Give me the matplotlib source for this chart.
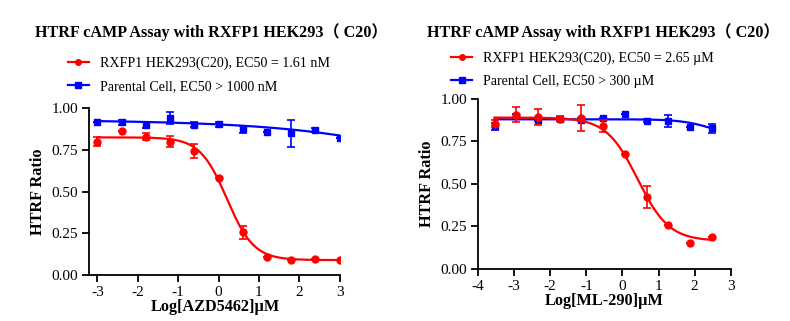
import matplotlib
matplotlib.use("Agg")
import matplotlib.pyplot as plt
import numpy as np

plt.rcParams['font.family'] = ['Liberation Serif', 'Noto Sans CJK SC']
plt.rcParams['mathtext.default'] = 'regular'

# left panel: AZD5462
x_azd = [-3, -2.4, -1.8, -1.2, -0.6, 0, 0.6, 1.2, 1.8, 2.4, 3]
red_azd = [0.80, 0.865, 0.829, 0.80, 0.742, 0.583, 0.256, 0.11, 0.092, 0.095, 0.089]
red_azd_err = [0.028, 0, 0.02, 0.033, 0.042, 0.0, 0.04, 0.0, 0.0, 0.0, 0.0]
blue_azd = [0.92, 0.915, 0.90, 0.94, 0.90, 0.905, 0.873, 0.857, 0.849, 0.87, 0.823]
blue_azd_err = [0.0, 0.015, 0.02, 0.035, 0.015, 0.015, 0.02, 0.0, 0.08, 0.01, 0.0]
# 4PL fit parameters (top, bottom, logEC50, hill)
red_azd_fit = (0.825, 0.09, 0.207, 1.3)
blue_azd_fit = (0.93, 0.0, 8.0, 0.19)

# right panel: ML-290
x_ml = [-3.54, -2.94, -2.34, -1.74, -1.14, -0.54, 0.07, 0.67, 1.27, 1.88, 2.48]
red_ml = [0.853, 0.908, 0.894, 0.882, 0.888, 0.839, 0.674, 0.422, 0.257, 0.151, 0.19]
red_ml_err = [0.02, 0.045, 0.047, 0.015, 0.078, 0.035, 0.0, 0.065, 0.0, 0.0, 0.0]
blue_ml = [0.839, 0.90, 0.878, 0.882, 0.878, 0.888, 0.912, 0.872, 0.868, 0.835, 0.827]
blue_ml_err = [0.02, 0.01, 0.01, 0.01, 0.01, 0.0, 0.0, 0.01, 0.035, 0.0, 0.025]
red_ml_fit = (0.89, 0.165, 0.423, 1.0)
blue_ml_fit = (0.88, 0.77, 2.5, 1.0)

title = 'HTRF cAMP Assay with RXFP1 HEK293（ C20）'


def four_pl(x, p):
    top, bottom, logec, hill = p
    return bottom + (top - bottom) / (1 + 10 ** ((x - logec) * hill))


def draw_panel(ax, x, red, red_err, blue, blue_err, red_fit, blue_fit):
    xs = np.linspace(min(x), max(x), 300)
    ax.plot(xs, four_pl(xs, blue_fit), color='blue', lw=1.6, zorder=2)
    ax.plot(xs, four_pl(xs, red_fit), color='red', lw=1.6, zorder=3)
    ax.errorbar(x, blue, yerr=blue_err, fmt='s', color='blue', ms=5,
                capsize=3, elinewidth=1.2, capthick=1.2, zorder=2)
    ax.errorbar(x, red, yerr=red_err, fmt='o', color='red', ms=5,
                capsize=3, elinewidth=1.2, capthick=1.2, zorder=3)
    # 图例用的句柄
    h1, = ax.plot([], [], color='red', marker='o', ms=4, lw=1.6)
    h2, = ax.plot([], [], color='blue', marker='s', ms=4, lw=1.6)
    for s in ['top', 'right']:
        ax.spines[s].set_visible(False)
    for s in ['left', 'bottom']:
        ax.spines[s].set_linewidth(1.3)
    ax.tick_params(width=1.3, length=5, labelsize=11, pad=3)
    ax.set_ylim(0, 1.0)
    ax.set_yticks([0, 0.25, 0.5, 0.75, 1.0])
    ax.set_yticklabels(['0.00', '0.25', '0.50', '0.75', '1.00'])
    ax.set_ylabel('HTRF Ratio', fontsize=11.7, fontweight='bold', labelpad=4)
    return [h1, h2]


fig = plt.figure(figsize=(7.9, 3.21), dpi=100)

ax1 = fig.add_axes([0.113, 0.143, 0.318, 0.520])
hs = draw_panel(ax1, x_azd, red_azd, red_azd_err, blue_azd, blue_azd_err,
                red_azd_fit, blue_azd_fit)
ax1.set_xlim(-3.2, 3.02)
ax1.set_xticks(range(-3, 4))
ax1.set_xticklabels([str(v) for v in range(-3, 4)])
ax1.set_xlabel('Log[AZD5462]µM', fontsize=11.7, fontweight='bold', labelpad=0)
fig.text(0.268, 0.90, title, ha='center', va='center', fontsize=11.6, fontweight='bold')
fig.legend(hs, ['RXFP1 HEK293(C20), EC50 = 1.61 nM', 'Parental Cell, EC50 > 1000 nM'],
           loc='upper left', bbox_to_anchor=(0.086, 0.824), frameon=False,
           fontsize=10.1, handlelength=1.5, handletextpad=0.8, labelspacing=0.7,
           borderpad=0, borderaxespad=0)

ax2 = fig.add_axes([0.605, 0.162, 0.320, 0.530])
hs = draw_panel(ax2, x_ml, red_ml, red_ml_err, blue_ml, blue_ml_err,
                red_ml_fit, blue_ml_fit)
ax2.set_xlim(-4, 3)
ax2.set_xticks(range(-4, 4))
ax2.set_xticklabels([str(v) for v in range(-4, 4)])
ax2.set_xlabel('Log[ML-290]µM', fontsize=11.7, fontweight='bold', labelpad=0)
fig.text(0.763, 0.90, title, ha='center', va='center', fontsize=11.6, fontweight='bold')
fig.legend(hs, ['RXFP1 HEK293(C20), EC50 = 2.65 µM', 'Parental Cell, EC50 > 300 µM'],
           loc='upper left', bbox_to_anchor=(0.571, 0.838), frameon=False,
           fontsize=10.1, handlelength=1.5, handletextpad=0.8, labelspacing=0.7,
           borderpad=0, borderaxespad=0)

fig.savefig('out.png', dpi=100)
